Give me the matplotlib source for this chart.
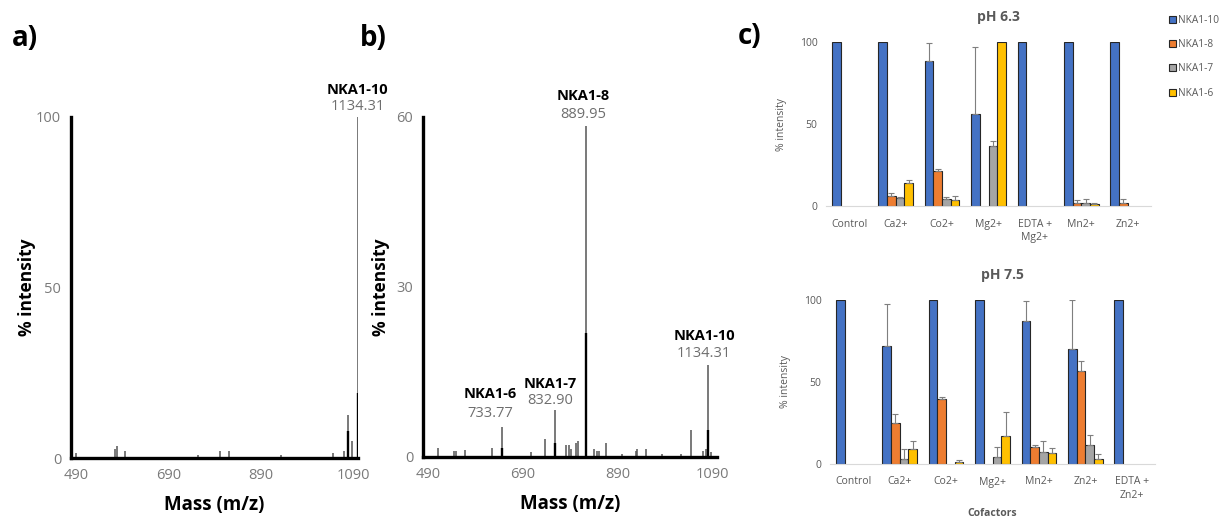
import matplotlib.pyplot as plt
from matplotlib.patches import Patch
import numpy as np

plt.rcParams['font.family'] = ['Open Sans', 'DejaVu Sans']

# ---- spectrum a) (x in displayed m/z scale, y in % intensity)
a_mz = [490, 575, 579, 596, 753, 801, 820, 933, 1046, 1070, 1079, 1086, 1099]
a_int = [1.5, 2.5, 3.5, 2.0, 1.0, 2.0, 2.0, 0.8, 1.5, 2.0, 12.5, 5.0, 100]
a_dark_mz = [1079, 1099]
a_dark_int = [8, 19]
a_labels = [("NKA1-10", "1134.31", 1099)]

# ---- spectrum b)
b_mz = [511, 545, 549, 568, 624, 645, 708, 737, 758, 781, 788, 792, 802, 807,
        823, 840, 846, 851, 865, 899, 928, 930, 951, 983, 1025, 1046, 1071,
        1077, 1081, 1087]
b_int = [1.6, 1.0, 1.0, 1.2, 1.6, 5.3, 0.8, 3.2, 8.3, 2.2, 2.2, 1.5, 2.5, 2.8,
         58.5, 1.5, 1.0, 1.0, 2.5, 0.6, 1.0, 1.5, 1.5, 0.6, 0.6, 4.8, 1.0,
         1.5, 16.2, 0.8]
b_dark_mz = [645, 758, 823, 1081]
b_dark_int = [1.6, 2.5, 21.9, 4.8]
b_labels = [("NKA1-6", "733.77", 645), ("NKA1-7", "832.90", 758),
            ("NKA1-8", "889.95", 823), ("NKA1-10", "1134.31", 1081)]

# ---- bar charts c)
series = ["NKA1-10", "NKA1-8", "NKA1-7", "NKA1-6"]
colors = ["#4472C4", "#ED7D31", "#A5A5A5", "#FFC000"]

cat_63 = ["Control", "Ca2+", "Co2+", "Mg2+", "EDTA +\nMg2+", "Mn2+", "Zn2+"]
val_63 = [[100, 100, 88.4, 56.4, 100, 100, 100],
          [0, 6.1, 21.3, 0, 0, 1.6, 2.0],
          [0, 4.9, 4.3, 36.7, 0, 2.0, 0],
          [0, 14.2, 3.7, 100, 0, 1.0, 0]]
err_63 = [[0, 0, 11.0, 40.6, 0, 0, 0],
          [0, 1.6, 1.0, 0, 0, 2.1, 2.5],
          [0, 0.5, 1.4, 2.7, 0, 2.5, 0],
          [0, 1.6, 2.6, 0, 0, 1.0, 0]]

cat_75 = ["Control", "Ca2+", "Co2+", "Mg2+", "Mn2+", "Zn2+", "EDTA +\nZn2+"]
val_75 = [[100, 72.2, 100, 100, 87.4, 69.9, 100],
          [0, 25.2, 39.4, 0, 10.6, 56.7, 0],
          [0, 3.3, 0, 4.1, 7.1, 11.4, 0],
          [0, 9.1, 1.2, 16.9, 6.5, 3.3, 0]]
err_75 = [[0, 25.2, 0, 0, 12.2, 30.1, 0],
          [0, 5.1, 1.3, 0, 0.8, 6.1, 0],
          [0, 5.6, 0, 6.5, 6.7, 6.1, 0],
          [0, 4.7, 1.0, 14.8, 3.1, 2.8, 0]]

fig = plt.figure(figsize=(12.24, 5.19), dpi=100)
W, H = 1224, 519


def px_axes(l, t, r, b):
    return fig.add_axes([l / W, 1 - b / H, (r - l) / W, (b - t) / H])


def spectrum(ax, mz, inten, dmz, dint, labels, ymax, yticks, offs, ypad):
    ax.vlines(mz, 0, inten, color="#555555", lw=1.1)
    ax.vlines(dmz, 0, dint, color="black", lw=1.7)
    ax.set_xlim(479, 1100)
    ax.set_ylim(0, ymax)
    for s in ["top", "right"]:
        ax.spines[s].set_visible(False)
    for s in ["left", "bottom"]:
        ax.spines[s].set_linewidth(2.4)
    ax.set_xticks([490, 690, 890, 1090])
    ax.set_yticks(yticks)
    ax.tick_params(length=0, labelsize=10.5, labelcolor="#7a7a7a", pad=7)
    ax.set_ylabel("% intensity", fontsize=12.5, fontweight="bold", labelpad=ypad)
    ax.set_xlabel("Mass (m/z)", fontsize=13.5, fontweight="bold", labelpad=9)
    for (name, num, x), (dx, d1, d2) in zip(labels, offs):
        y = inten[mz.index(x)]
        ax.annotate(num, (x, y), xytext=(dx, d1), textcoords="offset pixels",
                    ha="center", va="center", fontsize=10.5, color="#6e6e6e",
                    annotation_clip=False)
        ax.annotate(name, (x, y), xytext=(dx, d2), textcoords="offset pixels",
                    ha="center", va="center", fontsize=10.5, fontweight="bold",
                    annotation_clip=False)


ax_a = px_axes(71, 117, 358, 458)
spectrum(ax_a, a_mz, a_int, a_dark_mz, a_dark_int, a_labels, 100,
         [0, 50, 100], [(0, 10, 27)], 0)
ax_b = px_axes(423, 117, 717, 457)
spectrum(ax_b, b_mz, b_int, b_dark_mz, b_dark_int, b_labels, 60,
         [0, 30, 60], [(-11, 13, 33), (-5, 9, 26), (-3, 11, 29), (-4, 12, 29)], 5)


def bars(ax, cats, vals, errs, title):
    x = np.arange(len(cats))
    w = 0.1875
    for i, (v, e) in enumerate(zip(vals, errs)):
        pos = x + (i - 1.5) * w
        v = np.array(v, dtype=float)
        e = np.array(e, dtype=float)
        keep = v > 0
        ax.bar(pos[keep], v[keep], w, color=colors[i], edgecolor="#262626",
               lw=0.8, zorder=2)
        ke = keep & (e > 0)
        ax.errorbar(pos[ke], v[ke], yerr=[np.zeros(ke.sum()), e[ke]],
                    fmt="none", ecolor="#7f7f7f", elinewidth=0.8, capsize=2.5,
                    capthick=0.8, zorder=3)
    ax.set_xlim(-0.5, len(cats) - 0.5)
    ax.set_ylim(0, 100)
    ax.set_xticks(x)
    ax.set_xticklabels(cats, fontsize=7.5, color="#595959", linespacing=1.3)
    ax.set_yticks([0, 50, 100])
    ax.tick_params(axis="y", length=0, labelsize=7.5, labelcolor="#595959", pad=6)
    ax.tick_params(axis="x", length=0, pad=9)
    for s in ["top", "right", "left"]:
        ax.spines[s].set_visible(False)
    ax.spines["bottom"].set_color("#d9d9d9")
    ax.set_ylabel("% intensity", fontsize=7.5, color="#595959", labelpad=9)
    ax.set_title(title, fontsize=10, fontweight="bold", color="#595959",
                 pad=15, x=0.53)


ax_c1 = px_axes(826, 42, 1151, 206)
bars(ax_c1, cat_63, val_63, err_63, "pH 6.3")
ax_c2 = px_axes(830, 300, 1155, 464)
bars(ax_c2, cat_75, val_75, err_75, "pH 7.5")
ax_c2.set_xlabel("Cofactors", fontsize=7.5, fontweight="bold",
                 color="#595959", labelpad=5)

handles = [Patch(facecolor=c, edgecolor="#262626", lw=0.8) for c in colors]
fig.legend(handles, series, loc="upper left", bbox_to_anchor=(1160 / W, 1 - 6 / H),
           frameon=False, fontsize=7.3, handlelength=0.7, handleheight=0.7,
           handletextpad=0.2, labelspacing=1.3, labelcolor="#595959")

fig.text(12 / W, 1 - 38 / H, "a)", fontsize=20, fontweight="bold", va="center")
fig.text(360 / W, 1 - 38 / H, "b)", fontsize=20, fontweight="bold", va="center")
fig.text(738 / W, 1 - 36 / H, "c)", fontsize=20, fontweight="bold", va="center")

fig.savefig("out.png", dpi=100)
